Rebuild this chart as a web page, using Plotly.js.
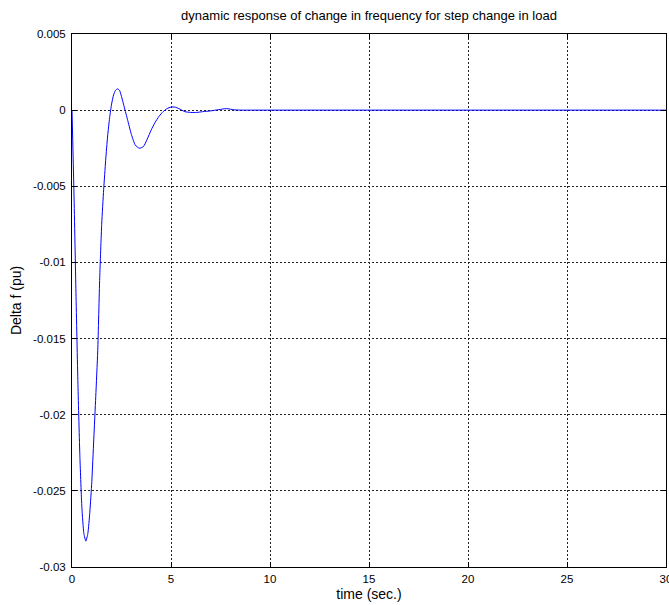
<!DOCTYPE html>
<html>
<head>
<meta charset="utf-8">
<script src="https://cdn.plot.ly/plotly-3.0.1.min.js"></script>
<style>html,body{margin:0;padding:0;background:#fff;}#chart{width:669px;height:605px;}</style>
</head>
<body>
<div id="chart"></div>
<script>
const time = [0, 0.1, 0.2, 0.3, 0.4, 0.5, 0.6, 0.7, 0.8, 0.9, 1.0, 1.1, 1.2, 1.3, 1.4, 1.5, 1.6, 1.7, 1.8, 1.9, 2.0, 2.1, 2.2, 2.3, 2.4, 2.5, 2.6, 2.7, 2.8, 3.0, 3.2, 3.4, 3.6, 3.8, 4.0, 4.2, 4.4, 4.6, 4.8, 5.0, 5.2, 5.4, 5.7, 6.0, 6.3, 6.6, 7.0, 7.4, 7.8, 8.2, 8.6, 9, 10, 30];
const deltaF = [0, -0.0055, -0.0120, -0.0180, -0.0228, -0.0261, -0.0278, -0.0283, -0.0278, -0.0264, -0.0244, -0.0216, -0.0188, -0.0158, -0.0110, -0.0075, -0.0052, -0.0033, -0.0017, -0.0005, 0.0004, 0.0010, 0.0013, 0.0014, 0.0013, 0.0009, 0.0004, -0.0001, -0.0006, -0.0016, -0.0023, -0.0025, -0.0024, -0.0019, -0.0013, -0.0008, -0.0004, -0.0001, 0.0001, 0.0002, 0.0002, 0.0001, -0.0001, -0.00015, -0.00015, -0.0001, -0.00005, 0.00003, 0.0001, 0.00002, 0, 0, 0, 0];
const xTicks = [0, 5, 10, 15, 20, 25, 30];
const yTicks = [0.005, 0, -0.005, -0.01, -0.015, -0.02, -0.025, -0.03];
const yTickText = ['0.005', '0', '-0.005', '-0.01', '-0.015', '-0.02', '-0.025', '-0.03'];

const fam = 'Liberation Sans, Arial, sans-serif';
const tickFont = {family: fam, size: 11.5, color: '#000'};
const axTitleFont = {family: fam, size: 14, color: '#000'};
const titleFont = {family: fam, size: 13, color: '#000'};
const axisCommon = {
  showline: true, linecolor: '#000', linewidth: 1, mirror: 'ticks',
  ticks: 'inside', ticklen: 5, tickcolor: '#000',
  showgrid: true, gridcolor: '#222', griddash: '2px,2px', gridwidth: 1,
  zeroline: false, tickfont: tickFont, ticklabeloverflow: 'allow'
};

Plotly.newPlot('chart', [{
  x: time, y: deltaF, type: 'scatter', mode: 'lines',
  line: {color: '#0000ff', width: 1, shape: 'spline', smoothing: 0.6}
}], {
  width: 669, height: 605,
  margin: {l: 72, r: 3, t: 34, b: 38},
  paper_bgcolor: '#fff', plot_bgcolor: '#fff',
  font: tickFont,
  showlegend: false,
  title: {text: 'dynamic response of change in frequency for step change in load', font: titleFont, x: 0.5516, xanchor: 'center', y: 0.982, yanchor: 'top'},
  xaxis: Object.assign({}, axisCommon, {
    range: [0, 30], tickvals: xTicks, ticktext: xTicks.map(String),
    ticklabelstandoff: 1,
    title: {text: 'time (sec.)', font: axTitleFont, standoff: 5}
  }),
  yaxis: Object.assign({}, axisCommon, {
    range: [-0.03, 0.005], tickvals: yTicks, ticktext: yTickText,
    ticklabelstandoff: 3,
    title: {text: 'Delta f (pu)', font: axTitleFont, standoff: 8}
  })
}, {displayModeBar: false, staticPlot: true});
</script>
</body>
</html>
